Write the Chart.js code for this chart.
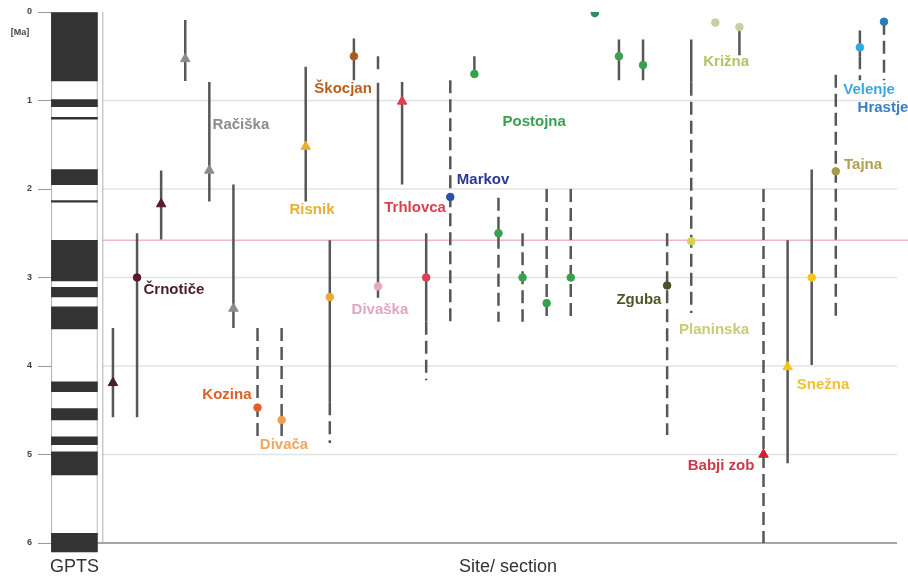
<!DOCTYPE html>
<html>
<head>
    <title>Cave sediment ages</title>
    <script src="https://cdn.jsdelivr.net/npm/chart.js"></script>
    <style>
        body { margin: 0; background: #fff; }
        .wrap { width: 908px; height: 576px; }
    </style>
</head>
<body>
<div class="wrap"><canvas id="ageChart"></canvas></div>

<script>
    // GPTS: normal polarity intervals [Ma]
    const gptsNormal = [
        [0, 0.78], [0.99, 1.07], [1.19, 1.21], [1.78, 1.95], [2.13, 2.15],
        [2.58, 3.04], [3.11, 3.22], [3.33, 3.58], [4.18, 4.29], [4.48, 4.61],
        [4.8, 4.89], [4.97, 5.23], [5.89, 6.1]
    ];
    const gptsSpan = [0, 6.1];
    const gptsColumn = -1.6;

    // age ranges: [site column, from Ma, to Ma]
    const solidRanges = [
        [0, 3.57, 4.58], [1, 2.5, 4.58], [2, 1.79, 2.57], [3, 0.09, 0.78],
        [4, 0.79, 2.14], [5, 1.95, 3.57], [8, 0.62, 2.14], [9, 2.58, 4.41],
        [10, 0.3, 0.77], [11, 0.8, 3.23], [12, 0.79, 1.95], [13, 2.5, 3.5],
        [15, 0.5, 0.73], [20, 0, 0.06], [21, 0.31, 0.77], [22, 0.31, 0.77],
        [24, 0.31, 0.8], [26, 0.17, 0.49], [28, 2.58, 5.1], [29, 1.78, 3.99],
        [31, 0.21, 0.5]
    ];
    const dashedRanges = [
        [6, 3.57, 4.85], [7, 3.57, 4.8], [9, 4.41, 4.87], [11, 0.5, 0.68],
        [13, 3.5, 4.16], [14, 0.77, 3.5], [16, 2.1, 3.5], [17, 2.5, 3.5],
        [18, 2.0, 3.5], [19, 2.0, 3.5], [23, 2.5, 4.78], [24, 0.8, 3.4],
        [27, 2.0, 6.0], [30, 0.71, 3.5], [31, 0.5, 0.77], [32, 0.11, 0.77]
    ];

    // dated samples
    const markerColumn = [0, 1, 2, 3, 4, 5, 6, 7, 8, 9, 10, 11, 12, 13, 14, 15, 16,
        17, 18, 19, 20, 21, 22, 23, 24, 25, 26, 27, 28, 29, 30, 31, 32];
    const markerAge = [4.19, 3.0, 2.17, 0.53, 1.79, 3.35, 4.47, 4.61, 1.52, 3.22, 0.5,
        3.1, 1.01, 3.0, 2.09, 0.7, 2.5, 3.0, 3.29, 3.0, 0.01, 0.5, 0.6, 3.09, 2.59,
        0.12, 0.17, 5.0, 4.01, 3.0, 1.8, 0.4, 0.11];
    const markerShape = ['triangle', 'circle', 'triangle', 'triangle', 'triangle', 'triangle',
        'circle', 'circle', 'triangle', 'circle', 'circle', 'circle', 'triangle', 'circle',
        'circle', 'circle', 'circle', 'circle', 'circle', 'circle', 'circle', 'circle',
        'circle', 'circle', 'circle', 'circle', 'circle', 'triangle', 'triangle', 'circle',
        'circle', 'circle', 'circle'];
    const markerColours = ['#4a1c2c', '#5a1a2a', '#5a1a2a', '#8c8c8c', '#8c8c8c', '#8c8c8c',
        '#e0602a', '#f0a050', '#e8b030', '#f0a830', '#b05a1a', '#e8a8c0', '#d94050', '#d94050',
        '#2a50a8', '#3aa050', '#3aa050', '#3aa050', '#3aa050', '#3aa050', '#2a9060', '#3aa050',
        '#3aa050', '#4a5028', '#d8d050', '#c8d0a0', '#c8d0a0', '#d02030', '#f5c518', '#f5c518',
        '#a89a50', '#30a8e0', '#2a7ab8'];

    // site names and where they sit [column, Ma]
    const siteNames = ['Črnotiče', 'Račiška', 'Risnik', 'Škocjan', 'Divaška', 'Trhlovca',
        'Kozina', 'Divača', 'Markov', 'Postojna', 'Zguba', 'Planinska', 'Križna',
        'Babji zob', 'Snežna', 'Tajna', 'Velenje', 'Hrastje'];
    const siteLabelCol = [2.53, 5.31, 8.26, 9.55, 11.08, 12.54, 4.73, 7.1, 15.36, 17.48,
        21.83, 24.95, 25.45, 25.24, 29.47, 31.13, 31.38, 31.96];
    const siteLabelAge = [3.14, 1.28, 2.24, 0.87, 3.37, 2.21, 4.33, 4.89, 1.9, 1.24,
        3.25, 3.59, 0.56, 5.13, 4.21, 1.73, 0.88, 1.08];
    const siteColours = ['#4a1c2c', '#8c8c8c', '#e8b030', '#b85f1f', '#e0a8c0', '#d94050',
        '#e0602a', '#f0a860', '#2a3a98', '#3aa050', '#505828', '#c8cc78', '#b8c068',
        '#d03848', '#f5c030', '#b0a050', '#3aa8e0', '#3a80c0'];

    const plioBoundary = 2.58;
    const ageTicks = [0, 1, 2, 3, 4, 5, 6];

    function toSegments(ranges) {
        const pts = [];
        ranges.forEach(r => {
            pts.push({ x: r[0], y: r[1] }, { x: r[0], y: r[2] }, { x: r[0], y: null });
        });
        return pts;
    }

    const decorPlugin = {
        id: 'decor',
        beforeDatasetsDraw(chart) {
            const { ctx, chartArea, scales } = chart;
            const x0 = scales.x.getPixelForValue(-0.42);
            const yTop = scales.y.getPixelForValue(0);
            const yBottom = scales.y.getPixelForValue(6);
            ctx.save();
            ctx.lineWidth = 1.5;
            ctx.strokeStyle = '#e3e3e3';
            ageTicks.slice(1, -1).forEach(t => {
                const y = scales.y.getPixelForValue(t);
                ctx.beginPath();
                ctx.moveTo(x0, y);
                ctx.lineTo(chartArea.right, y);
                ctx.stroke();
            });
            const yb = scales.y.getPixelForValue(plioBoundary);
            ctx.strokeStyle = '#f0b8c4';
            ctx.beginPath();
            ctx.moveTo(x0, yb);
            ctx.lineTo(chart.width, yb);
            ctx.stroke();
            ctx.strokeStyle = '#b0b0b0';
            ctx.lineWidth = 1;
            ctx.beginPath();
            ctx.moveTo(x0, yTop);
            ctx.lineTo(x0, yBottom);
            ctx.stroke();
            ctx.strokeStyle = '#888';
            ctx.lineWidth = 1.5;
            ctx.beginPath();
            ctx.moveTo(x0 - 5, yBottom);
            ctx.lineTo(chartArea.right, yBottom);
            ctx.stroke();
            ctx.restore();
        },
        afterDatasetsDraw(chart) {
            const { ctx, scales } = chart;
            ctx.save();
            ctx.textAlign = 'center';
            ctx.textBaseline = 'middle';
            ctx.font = 'bold 15px "Liberation Sans", Arial, sans-serif';
            siteNames.forEach((name, i) => {
                ctx.fillStyle = siteColours[i];
                ctx.fillText(name, scales.x.getPixelForValue(siteLabelCol[i]),
                    scales.y.getPixelForValue(siteLabelAge[i]));
            });
            ctx.fillStyle = '#444';
            ctx.font = 'bold 9px "Liberation Sans", Arial, sans-serif';
            ctx.fillText('[Ma]', 20, scales.y.getPixelForValue(0.23));
            ctx.fillStyle = '#333';
            ctx.font = '18px "Liberation Sans", Arial, sans-serif';
            ctx.fillText('GPTS', scales.x.getPixelForValue(gptsColumn), 567);
            ctx.fillText('Site/ section', 508, 567);
            ctx.restore();
        }
    };

    const ctx = document.getElementById('ageChart').getContext('2d');
    new Chart(ctx, {
        data: {
            datasets: [
                {
                    type: 'scatter',
                    data: markerColumn.map((c, i) => ({ x: c, y: markerAge[i] })),
                    pointStyle: markerShape,
                    pointBackgroundColor: markerColours,
                    pointBorderColor: markerColours,
                    pointRadius: markerShape.map(s => s === 'triangle' ? 5.5 : 3.8),
                    order: 0
                },
                {
                    type: 'line',
                    data: toSegments(solidRanges),
                    borderColor: '#575757',
                    borderWidth: 2.5,
                    pointRadius: 0,
                    spanGaps: false,
                    order: 1
                },
                {
                    type: 'line',
                    data: toSegments(dashedRanges),
                    borderColor: '#575757',
                    borderWidth: 2.5,
                    borderDash: [13, 6],
                    pointRadius: 0,
                    spanGaps: false,
                    order: 1
                },
                {
                    type: 'bar',
                    data: gptsNormal.map(b => ({ x: gptsColumn, y: b })),
                    backgroundColor: '#333',
                    barThickness: 46,
                    grouped: false,
                    clip: false,
                    order: 2
                },
                {
                    type: 'bar',
                    data: [{ x: gptsColumn, y: gptsSpan }],
                    backgroundColor: '#fff',
                    borderColor: '#aaa',
                    borderWidth: 1,
                    borderSkipped: false,
                    barThickness: 46,
                    grouped: false,
                    clip: false,
                    order: 3
                }
            ]
        },
        options: {
            responsive: true,
            maintainAspectRatio: false,
            animation: false,
            layout: { padding: { top: 12, right: 11, bottom: 33, left: 4 } },
            plugins: { legend: { display: false }, tooltip: { enabled: false } },
            scales: {
                x: { type: 'linear', min: -2.53, max: 32.54, offset: false, display: false },
                y: {
                    min: 0,
                    max: 6,
                    reverse: true,
                    afterFit(scale) { scale.width = 48; },
                    afterBuildTicks(scale) { scale.ticks = ageTicks.map(v => ({ value: v })); },
                    ticks: { color: '#444', font: { size: 9, weight: 'bold' }, padding: 6 },
                    grid: { drawOnChartArea: false, tickLength: 14, color: '#999' },
                    border: { display: false }
                }
            }
        },
        plugins: [decorPlugin]
    });
</script>
</body>
</html>
